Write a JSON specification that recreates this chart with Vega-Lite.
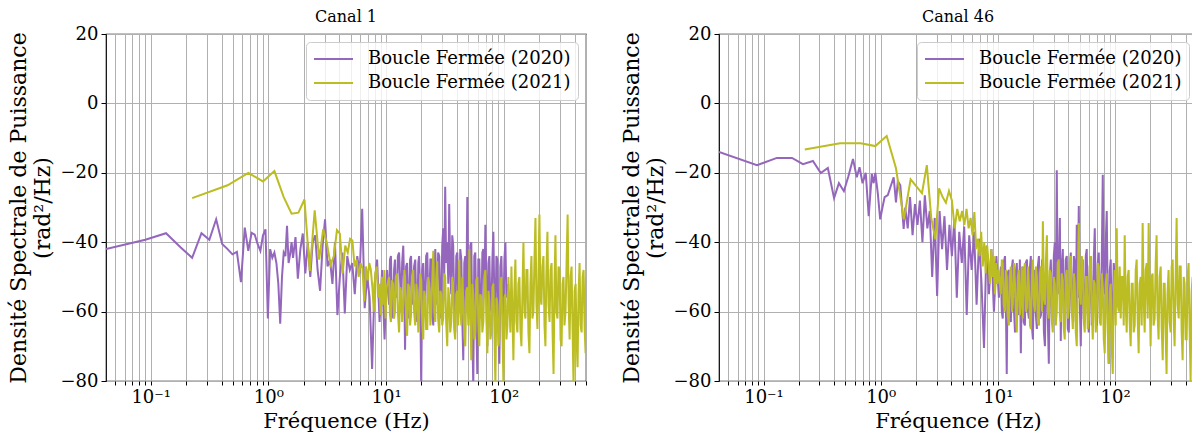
{
"$schema": "https://vega.github.io/schema/vega-lite/v6.json",
"padding": {"left": 6, "top": 8, "right": 0, "bottom": 0},
"background": "white",
"spacing": 31,
"datasets": {
"c1a": [{"f":0.0417,"v":-42},{"f":0.09,"v":-39.3},{"f":0.135,"v":-37.4},{"f":0.18,"v":-41.5},{"f":0.225,"v":-44.5},{"f":0.27,"v":-37.4},{"f":0.315,"v":-39.3},{"f":0.36,"v":-33.4},{"f":0.405,"v":-40.5},{"f":0.45,"v":-42},{"f":0.495,"v":-43.5},{"f":0.54,"v":-42.8},{"f":0.585,"v":-51.5},{"f":0.63,"v":-35.8},{"f":0.675,"v":-42.5},{"f":0.72,"v":-37.3},{"f":0.765,"v":-37.8},{"f":0.81,"v":-40.5},{"f":0.855,"v":-42.5},{"f":0.9,"v":-38},{"f":0.945,"v":-36.3},{"f":0.99,"v":-62},{"f":1.035,"v":-42},{"f":1.08,"v":-44.5},{"f":1.125,"v":-43},{"f":1.17,"v":-46},{"f":1.215,"v":-52},{"f":1.26,"v":-63.5},{"f":1.305,"v":-50},{"f":1.35,"v":-43},{"f":1.395,"v":-44},{"f":1.44,"v":-35.3},{"f":1.485,"v":-46},{"f":1.53,"v":-43.5},{"f":1.575,"v":-40},
{"f":1.62,"v":-44.5},{"f":1.7,"v":-38.5},{"f":1.78,"v":-50.5},{"f":1.87,"v":-42},{"f":1.96,"v":-37.5},{"f":2.06,"v":-49},{"f":2.16,"v":-40},{"f":2.27,"v":-50},{"f":2.38,"v":-40},{"f":2.5,"v":-38},{"f":2.62,"v":-48},{"f":2.75,"v":-54},{"f":2.89,"v":-41},{"f":3.03,"v":-33.4},{"f":3.18,"v":-47},{"f":3.34,"v":-45},{"f":3.5,"v":-52},{"f":3.68,"v":-40},{"f":3.86,"v":-61},{"f":4.05,"v":-50},{"f":4.25,"v":-43},{"f":4.46,"v":-60.5},{"f":4.68,"v":-44},{"f":4.92,"v":-48},{"f":5.16,"v":-46},{"f":5.42,"v":-55},{"f":5.69,"v":-44},{"f":5.97,"v":-49},{"f":6.27,"v":-30.4},{"f":6.58,"v":-59},{"f":6.91,"v":-50},{"f":7.25,"v":-56},{"f":7.61,"v":-76.5},{"f":7.99,"v":-52},{"f":8.39,"v":-45},{"f":8.81,"v":-63},{"f":9.25,"v":-48},{"f":9.71,"v":-68},{"f":10.2,"v":-48},
{"f":10.6,"v":-58},{"f":10.8,"v":-45},{"f":11.0,"v":-44},{"f":11.2,"v":-57},{"f":11.5,"v":-62},{"f":11.7,"v":-48},{"f":11.9,"v":-45},{"f":12.1,"v":-55},{"f":12.4,"v":-56},{"f":12.6,"v":-44},{"f":12.9,"v":-43},{"f":13.2,"v":-52},{"f":13.4,"v":-60},{"f":13.7,"v":-46},{"f":14.0,"v":-41},{"f":14.3,"v":-55},{"f":14.5,"v":-71},{"f":14.8,"v":-47},{"f":15.1,"v":-46},{"f":15.4,"v":-58},{"f":15.7,"v":-62},{"f":16.0,"v":-45},{"f":16.3,"v":-44},{"f":16.6,"v":-54},{"f":17.0,"v":-58},{"f":17.3,"v":-47},{"f":17.7,"v":-45},{"f":18.1,"v":-60},{"f":18.4,"v":-63},{"f":18.8,"v":-46},{"f":19.1,"v":-44},{"f":19.5,"v":-56},{"f":19.9,"v":-82},{"f":20.3,"v":-48},{"f":20.7,"v":-46},{"f":21.1,"v":-58},{"f":21.5,"v":-60},{"f":21.9,"v":-44},{"f":22.4,"v":-43},{"f":22.8,"v":-55},{"f":23.3,"v":-57},{"f":23.8,"v":-45},{"f":24.2,"v":-45},{"f":24.7,"v":-61},{"f":25.2,"v":-64},{"f":25.7,"v":-47},{"f":26.2,"v":-42},{"f":26.7,"v":-53},{"f":27.2,"v":-58},{"f":27.7,"v":-43},{"f":28.3,"v":-44},{"f":28.9,"v":-57},{"f":29.4,"v":-62},{"f":30.0,"v":-41},{"f":30.6,"v":-36},{"f":31.2,"v":-50},{"f":31.8,"v":-24},{"f":32.4,"v":-46},{"f":33.1,"v":-40},{"f":33.8,"v":-52},{"f":34.4,"v":-29},{"f":35.1,"v":-48},{"f":35.8,"v":-55},{"f":36.5,"v":-38},{"f":37.2,"v":-41},{"f":37.9,"v":-58},{"f":38.7,"v":-66},{"f":39.5,"v":-44},{"f":40.3,"v":-43},{"f":41.1,"v":-57},{"f":41.9,"v":-60},{"f":42.7,"v":-42},{"f":43.6,"v":-45},{"f":44.5,"v":-63},{"f":45.3,"v":-74},{"f":46.2,"v":-46},{"f":47.1,"v":-44},{"f":48.0,"v":-60},{"f":49.0,"v":-27},{"f":50.0,"v":-52},{"f":51.0,"v":-58},{"f":52.0,"v":-41},{"f":53.0,"v":-40},{"f":54.1,"v":-65},{"f":55.1,"v":-82},{"f":56.2,"v":-44},{"f":57.3,"v":-43},{"f":58.4,"v":-62},{"f":59.6,"v":-78},{"f":60.8,"v":-45},{"f":62.0,"v":-45},{"f":63.2,"v":-58},{"f":64.5,"v":-62},{"f":65.8,"v":-43},{"f":67.1,"v":-42},{"f":68.4,"v":-55},{"f":69.8,"v":-35},{"f":71.2,"v":-52},{"f":72.6,"v":-70},{"f":74.1,"v":-46},{"f":75.5,"v":-44},{"f":77.0,"v":-59},{"f":78.5,"v":-60},{"f":80.1,"v":-45},{"f":81.6,"v":-37},{"f":83.2,"v":-56},{"f":84.9,"v":-65},{"f":86.6,"v":-44},{"f":88.3,"v":-45},{"f":90.1,"v":-62},{"f":91.8,"v":-75},{"f":93.6,"v":-47},{"f":95.5,"v":-44},{"f":97.4,"v":-58},{"f":99.3,"v":-62},{"f":101.3,"v":-45},{"f":103.3,"v":-40},{"f":105.4,"v":-56},{"f":107.4,"v":-52}],
"c1b": [{"f":0.225,"v":-27.3},{"f":0.45,"v":-23.6},{"f":0.675,"v":-20},{"f":0.9,"v":-22.5},{"f":1.125,"v":-19.5},{"f":1.35,"v":-27},{"f":1.575,"v":-31.8},{"f":1.8,"v":-31.5},{"f":2.025,"v":-27.7},{"f":2.25,"v":-48.3},{"f":2.475,"v":-30.8},{"f":2.7,"v":-45},{"f":2.925,"v":-36.2},{"f":3.15,"v":-40.5},{"f":3.375,"v":-46.5},{"f":3.6,"v":-44},{"f":3.825,"v":-36.5},{"f":4.05,"v":-37.5},{"f":4.275,"v":-49},{"f":4.5,"v":-41},{"f":4.725,"v":-43},{"f":4.95,"v":-39},{"f":5.175,"v":-39.5},{"f":5.4,"v":-47},{"f":5.625,"v":-45},{"f":5.85,"v":-50},{"f":6.075,"v":-46},{"f":6.3,"v":-47.5},{"f":6.525,"v":-57},{"f":6.75,"v":-47},{"f":6.975,"v":-51},{"f":7.2,"v":-46},{"f":7.425,"v":-48},{"f":7.65,"v":-53},{"f":7.875,"v":-60},{"f":8.1,"v":-49},{"f":8.325,"v":-47},{"f":8.55,"v":-56},{"f":8.775,"v":-52},{"f":9.0,"v":-61},{"f":9.225,"v":-50},{"f":9.45,"v":-58},{"f":9.675,"v":-48},{"f":9.9,"v":-62},{"f":10.125,"v":-53},
{"f":10.6,"v":-50},{"f":10.8,"v":-61},{"f":11.0,"v":-63},{"f":11.2,"v":-51},{"f":11.5,"v":-52},{"f":11.7,"v":-62},{"f":11.9,"v":-60},{"f":12.1,"v":-50},{"f":12.4,"v":-49},{"f":12.6,"v":-60},{"f":12.9,"v":-66},{"f":13.2,"v":-53},{"f":13.4,"v":-54},{"f":13.7,"v":-63},{"f":14.0,"v":-58},{"f":14.3,"v":-48},{"f":14.5,"v":-50},{"f":14.8,"v":-62},{"f":15.1,"v":-67},{"f":15.4,"v":-52},{"f":15.7,"v":-53},{"f":16.0,"v":-64},{"f":16.3,"v":-61},{"f":16.6,"v":-50},{"f":17.0,"v":-48},{"f":17.3,"v":-60},{"f":17.7,"v":-64},{"f":18.1,"v":-52},{"f":18.4,"v":-55},{"f":18.8,"v":-66},{"f":19.1,"v":-62},{"f":19.5,"v":-49},{"f":19.9,"v":-51},{"f":20.3,"v":-63},{"f":20.7,"v":-68},{"f":21.1,"v":-54},{"f":21.5,"v":-56},{"f":21.9,"v":-65},{"f":22.4,"v":-65},{"f":22.8,"v":-50},{"f":23.3,"v":-52},{"f":23.8,"v":-64},{"f":24.2,"v":-60},{"f":24.7,"v":-51},{"f":25.2,"v":-42.5},{"f":25.7,"v":-60},{"f":26.2,"v":-63},{"f":26.7,"v":-50},{"f":27.2,"v":-45.5},{"f":27.7,"v":-62},{"f":28.3,"v":-66},{"f":28.9,"v":-54},{"f":29.4,"v":-55},{"f":30.0,"v":-64},{"f":30.6,"v":-62},{"f":31.2,"v":-49},{"f":31.8,"v":-50},{"f":32.4,"v":-63},{"f":33.1,"v":-70},{"f":33.8,"v":-53},{"f":34.4,"v":-56},{"f":35.1,"v":-66},{"f":35.8,"v":-63},{"f":36.5,"v":-50},{"f":37.2,"v":-52},{"f":37.9,"v":-65},{"f":38.7,"v":-68},{"f":39.5,"v":-55},{"f":40.3,"v":-54},{"f":41.1,"v":-64},{"f":41.9,"v":-45},{"f":42.7,"v":-58},{"f":43.6,"v":-64},{"f":44.5,"v":-50},{"f":45.3,"v":-57},{"f":46.2,"v":-67},{"f":47.1,"v":-70},{"f":48.0,"v":-54},{"f":49.0,"v":-53},{"f":50.0,"v":-64},{"f":51.0,"v":-42},{"f":52.0,"v":-60},{"f":53.0,"v":-74},{"f":54.1,"v":-52},{"f":55.1,"v":-55},{"f":56.2,"v":-68},{"f":57.3,"v":-66},{"f":58.4,"v":-51},{"f":59.6,"v":-50},{"f":60.8,"v":-63},{"f":62.0,"v":-70},{"f":63.2,"v":-55},{"f":64.5,"v":-56},{"f":65.8,"v":-66},{"f":67.1,"v":-63},{"f":68.4,"v":-50},{"f":69.8,"v":-48},{"f":71.2,"v":-62},{"f":72.6,"v":-72},{"f":74.1,"v":-54},{"f":75.5,"v":-57},{"f":77.0,"v":-68},{"f":78.5,"v":-66},{"f":80.1,"v":-53},{"f":81.6,"v":-52},{"f":83.2,"v":-64},{"f":84.9,"v":-81},{"f":86.6,"v":-56},{"f":88.3,"v":-58},{"f":90.1,"v":-70},{"f":91.8,"v":-68},{"f":93.6,"v":-52},{"f":95.5,"v":-50},{"f":97.4,"v":-65},{"f":99.3,"v":-80},{"f":101.3,"v":-56},{"f":103.3,"v":-55},{"f":105.4,"v":-68},{"f":107.4,"v":-64},{"f":109.5,"v":-50},
{"f":111.7,"v":-58},{"f":113.9,"v":-66},{"f":116.2,"v":-47},{"f":118.5,"v":-60},{"f":120.8,"v":-74},{"f":123.2,"v":-54},{"f":125.6,"v":-45},{"f":128.1,"v":-63},{"f":130.6,"v":-66},{"f":133.2,"v":-52},{"f":135.9,"v":-50},{"f":138.6,"v":-65},{"f":141.3,"v":-70},{"f":144.1,"v":-55},{"f":147,"v":-40},{"f":150,"v":-60},{"f":152.8,"v":-62},{"f":155.9,"v":-48},{"f":158.9,"v":-48},{"f":162.1,"v":-66},{"f":165.3,"v":-72},{"f":168.6,"v":-52},{"f":171.9,"v":-44},{"f":175.3,"v":-62},{"f":178.8,"v":-60},{"f":182.4,"v":-45},{"f":186,"v":-33},{"f":189.7,"v":-58},{"f":193.4,"v":-65},{"f":197.3,"v":-50},{"f":201,"v":-32},{"f":205,"v":-56},{"f":209,"v":-58},{"f":213,"v":-47},{"f":217.5,"v":-44},{"f":222,"v":-64},{"f":226,"v":-70},{"f":230,"v":-50},{"f":235,"v":-37},{"f":240,"v":-58},{"f":245,"v":-63},{"f":250,"v":-48},{"f":255,"v":-46},{"f":260,"v":-66},{"f":265,"v":-78},{"f":270,"v":-52},{"f":275,"v":-38},{"f":280,"v":-60},{"f":286,"v":-62},{"f":292,"v":-47},{"f":298,"v":-48},{"f":304,"v":-68},{"f":310,"v":-70},{"f":316,"v":-52},{"f":322,"v":-50},{"f":328,"v":-64},{"f":335,"v":-60},{"f":342,"v":-46},{"f":349,"v":-32},{"f":356,"v":-58},{"f":363,"v":-68},{"f":370,"v":-50},{"f":377,"v":-47},{"f":385,"v":-66},{"f":392,"v":-82},{"f":400,"v":-54},{"f":408,"v":-52},{"f":416,"v":-68},{"f":424,"v":-76},{"f":432,"v":-55},{"f":441,"v":-46},{"f":450,"v":-64},{"f":459,"v":-66},{"f":468,"v":-50},{"f":477,"v":-48},{"f":487,"v":-65},{"f":496,"v":-72},{"f":500,"v":-50}],
"c2a": [{"f":0.0417,"v":-14},{"f":0.088,"v":-17.8},{"f":0.13,"v":-15.7},{"f":0.175,"v":-15.7},{"f":0.217,"v":-17.5},{"f":0.264,"v":-16.6},{"f":0.308,"v":-20.1},{"f":0.354,"v":-18.6},{"f":0.4,"v":-27.3},{"f":0.44,"v":-23},{"f":0.485,"v":-25.3},{"f":0.53,"v":-21},{"f":0.58,"v":-16},{"f":0.625,"v":-21.3},{"f":0.66,"v":-18.4},{"f":0.7,"v":-23},{"f":0.745,"v":-20},{"f":0.79,"v":-32.5},{"f":0.84,"v":-20.3},{"f":0.87,"v":-23},{"f":0.9,"v":-20},{"f":0.945,"v":-26},{"f":0.99,"v":-33.4},{"f":1.035,"v":-30},{"f":1.08,"v":-27},{"f":1.15,"v":-26.4},{"f":1.29,"v":-21.3},{"f":1.35,"v":-28.5},{"f":1.4,"v":-22.4},{"f":1.47,"v":-23.6},{"f":1.57,"v":-36.2},
{"f":1.62,"v":-30},{"f":1.7,"v":-36},{"f":1.78,"v":-27},{"f":1.87,"v":-38},{"f":1.96,"v":-29},{"f":2.06,"v":-35},{"f":2.16,"v":-28},{"f":2.27,"v":-40},{"f":2.38,"v":-26.5},{"f":2.5,"v":-36},{"f":2.62,"v":-31},{"f":2.75,"v":-50},{"f":2.89,"v":-33},{"f":3.03,"v":-55.5},{"f":3.18,"v":-31},{"f":3.34,"v":-42},{"f":3.5,"v":-32.5},{"f":3.68,"v":-48},{"f":3.86,"v":-35},{"f":4.05,"v":-44},{"f":4.25,"v":-33.5},{"f":4.46,"v":-56},{"f":4.68,"v":-37},{"f":4.92,"v":-46},{"f":5.16,"v":-35.5},{"f":5.42,"v":-61},{"f":5.69,"v":-38},{"f":5.97,"v":-48},{"f":6.27,"v":-37},{"f":6.58,"v":-58},{"f":6.91,"v":-39},{"f":7.25,"v":-52},{"f":7.61,"v":-70.5},{"f":7.99,"v":-41},{"f":8.39,"v":-55},{"f":8.81,"v":-42},{"f":9.25,"v":-60},{"f":9.71,"v":-44},{"f":10.2,"v":-56},
{"f":10.6,"v":-47},{"f":10.8,"v":-60},{"f":11.0,"v":-62},{"f":11.2,"v":-46},{"f":11.5,"v":-44},{"f":11.7,"v":-58},{"f":11.9,"v":-78},{"f":12.1,"v":-49},{"f":12.4,"v":-48},{"f":12.6,"v":-62},{"f":12.9,"v":-63},{"f":13.2,"v":-47},{"f":13.4,"v":-45},{"f":13.7,"v":-59},{"f":14.0,"v":-66},{"f":14.3,"v":-48},{"f":14.5,"v":-46},{"f":14.8,"v":-61},{"f":15.1,"v":-60},{"f":15.4,"v":-45},{"f":15.7,"v":-72},{"f":16.0,"v":-50},{"f":16.3,"v":-47},{"f":16.6,"v":-63},{"f":17.0,"v":-64},{"f":17.3,"v":-46},{"f":17.7,"v":-45},{"f":18.1,"v":-60},{"f":18.4,"v":-62},{"f":18.8,"v":-47},{"f":19.1,"v":-44},{"f":19.5,"v":-64},{"f":19.9,"v":-68},{"f":20.3,"v":-49},{"f":20.7,"v":-48},{"f":21.1,"v":-61},{"f":21.5,"v":-65},{"f":21.9,"v":-47},{"f":22.4,"v":-44},{"f":22.8,"v":-62},{"f":23.3,"v":-61},{"f":23.8,"v":-45},{"f":24.2,"v":-46},{"f":24.7,"v":-66},{"f":25.2,"v":-70},{"f":25.7,"v":-49},{"f":26.2,"v":-48},{"f":26.7,"v":-63},{"f":27.2,"v":-75},{"f":27.7,"v":-50},{"f":28.3,"v":-45},{"f":28.9,"v":-62},{"f":29.4,"v":-60},{"f":30.0,"v":-44},{"f":30.6,"v":-40},{"f":31.2,"v":-58},{"f":31.8,"v":-19.3},{"f":32.4,"v":-55},{"f":33.1,"v":-50},{"f":33.8,"v":-33},{"f":34.4,"v":-68.5},{"f":35.1,"v":-47},{"f":35.8,"v":-42},{"f":36.5,"v":-60},{"f":37.2,"v":-62},{"f":37.9,"v":-45},{"f":38.7,"v":-44},{"f":39.5,"v":-65},{"f":40.3,"v":-66},{"f":41.1,"v":-48},{"f":41.9,"v":-43},{"f":42.7,"v":-60},{"f":43.6,"v":-58},{"f":44.5,"v":-44},{"f":45.3,"v":-46},{"f":46.2,"v":-63},{"f":47.1,"v":-35},{"f":48.0,"v":-56},{"f":49.0,"v":-29.6},{"f":50.0,"v":-58},{"f":51.0,"v":-70},{"f":52.0,"v":-46},{"f":53.0,"v":-45},{"f":54.1,"v":-62},{"f":55.1,"v":-63},{"f":56.2,"v":-44},{"f":57.3,"v":-42},{"f":58.4,"v":-60},{"f":59.6,"v":-66},{"f":60.8,"v":-47},{"f":62.0,"v":-44},{"f":63.2,"v":-64},{"f":64.5,"v":-60},{"f":65.8,"v":-45},{"f":67.1,"v":-36},{"f":68.4,"v":-58},{"f":69.8,"v":-64},{"f":71.2,"v":-46},{"f":72.6,"v":-43},{"f":74.1,"v":-62},{"f":75.5,"v":-58},{"f":77.0,"v":-45},{"f":78.5,"v":-20.6},{"f":80.1,"v":-52},{"f":81.6,"v":-55},{"f":83.2,"v":-40},{"f":84.9,"v":-31},{"f":86.6,"v":-60},{"f":88.3,"v":-75},{"f":90.1,"v":-48},{"f":91.8,"v":-45},{"f":93.6,"v":-66},{"f":95.5,"v":-62},{"f":97.4,"v":-46},{"f":99.3,"v":-50}],
"c2b": [{"f":0.225,"v":-13.3},{"f":0.45,"v":-11.5},{"f":0.675,"v":-11.5},{"f":0.9,"v":-12.3},{"f":1.125,"v":-9.4},{"f":1.35,"v":-18.7},{"f":1.575,"v":-33.4},{"f":1.8,"v":-21.9},{"f":2.025,"v":-24},{"f":2.25,"v":-25.9},{"f":2.475,"v":-17.8},{"f":2.7,"v":-33},{"f":2.925,"v":-39.2},{"f":3.15,"v":-24.5},{"f":3.375,"v":-27},{"f":3.6,"v":-28.6},{"f":3.825,"v":-25.2},{"f":4.05,"v":-28},{"f":4.275,"v":-36},{"f":4.5,"v":-30.4},{"f":4.725,"v":-34},{"f":4.95,"v":-31},{"f":5.175,"v":-35},{"f":5.4,"v":-30.4},{"f":5.625,"v":-36},{"f":5.85,"v":-33},{"f":6.075,"v":-38},{"f":6.3,"v":-31.3},{"f":6.525,"v":-42},{"f":6.75,"v":-39},{"f":6.975,"v":-44},{"f":7.2,"v":-37},{"f":7.425,"v":-47},{"f":7.65,"v":-40},{"f":7.875,"v":-49},{"f":8.1,"v":-41},{"f":8.325,"v":-46},{"f":8.55,"v":-52},{"f":8.775,"v":-42},{"f":9.0,"v":-50},{"f":9.225,"v":-44},{"f":9.45,"v":-55},{"f":9.675,"v":-46},{"f":9.9,"v":-52},{"f":10.125,"v":-48},
{"f":10.6,"v":-55},{"f":10.8,"v":-45},{"f":11.0,"v":-46},{"f":11.2,"v":-58},{"f":11.5,"v":-60},{"f":11.7,"v":-48},{"f":11.9,"v":-50},{"f":12.1,"v":-61},{"f":12.4,"v":-64},{"f":12.6,"v":-50},{"f":12.9,"v":-47},{"f":13.2,"v":-60},{"f":13.4,"v":-58},{"f":13.7,"v":-46},{"f":14.0,"v":-52},{"f":14.3,"v":-63},{"f":14.5,"v":-66},{"f":14.8,"v":-50},{"f":15.1,"v":-48},{"f":15.4,"v":-61},{"f":15.7,"v":-57},{"f":16.0,"v":-47},{"f":16.3,"v":-62},{"f":16.6,"v":-49},{"f":17.0,"v":-46},{"f":17.3,"v":-60},{"f":17.7,"v":-59},{"f":18.1,"v":-47},{"f":18.4,"v":-53},{"f":18.8,"v":-64},{"f":19.1,"v":-65},{"f":19.5,"v":-50},{"f":19.9,"v":-45},{"f":20.3,"v":-58},{"f":20.7,"v":-60},{"f":21.1,"v":-47},{"f":21.5,"v":-50},{"f":21.9,"v":-63},{"f":22.4,"v":-64},{"f":22.8,"v":-49},{"f":23.3,"v":-47},{"f":23.8,"v":-60},{"f":24.2,"v":-34},{"f":24.7,"v":-56},{"f":25.2,"v":-58},{"f":25.7,"v":-45},{"f":26.2,"v":-38},{"f":26.7,"v":-60},{"f":27.2,"v":-62},{"f":27.7,"v":-48},{"f":28.3,"v":-49},{"f":28.9,"v":-63},{"f":29.4,"v":-66},{"f":30.0,"v":-50},{"f":30.6,"v":-52},{"f":31.2,"v":-64},{"f":31.8,"v":-60},{"f":32.4,"v":-46},{"f":33.1,"v":-45},{"f":33.8,"v":-61},{"f":34.4,"v":-63},{"f":35.1,"v":-49},{"f":35.8,"v":-51},{"f":36.5,"v":-65},{"f":37.2,"v":-68},{"f":37.9,"v":-50},{"f":38.7,"v":-48},{"f":39.5,"v":-62},{"f":40.3,"v":-59},{"f":41.1,"v":-46},{"f":41.9,"v":-44},{"f":42.7,"v":-60},{"f":43.6,"v":-65},{"f":44.5,"v":-49},{"f":45.3,"v":-52},{"f":46.2,"v":-66},{"f":47.1,"v":-70},{"f":48.0,"v":-52},{"f":49.0,"v":-34.5},{"f":50.0,"v":-55},{"f":51.0,"v":-58},{"f":52.0,"v":-44},{"f":53.0,"v":-47},{"f":54.1,"v":-63},{"f":55.1,"v":-66},{"f":56.2,"v":-50},{"f":57.3,"v":-50},{"f":58.4,"v":-65},{"f":59.6,"v":-62},{"f":60.8,"v":-47},{"f":62.0,"v":-44},{"f":63.2,"v":-60},{"f":64.5,"v":-68},{"f":65.8,"v":-51},{"f":67.1,"v":-52},{"f":68.4,"v":-66},{"f":69.8,"v":-60},{"f":71.2,"v":-46},{"f":72.6,"v":-47},{"f":74.1,"v":-63},{"f":75.5,"v":-64},{"f":77.0,"v":-49},{"f":78.5,"v":-53},{"f":80.1,"v":-68},{"f":81.6,"v":-72},{"f":83.2,"v":-52},{"f":84.9,"v":-49},{"f":86.6,"v":-66},{"f":88.3,"v":-75},{"f":90.1,"v":-54},{"f":91.8,"v":-52},{"f":93.6,"v":-70},{"f":95.5,"v":-78},{"f":97.4,"v":-55},{"f":99.3,"v":-48},{"f":101.3,"v":-64},{"f":103.3,"v":-36},{"f":105.4,"v":-58},{"f":107.4,"v":-60},{"f":109.5,"v":-47},
{"f":111.7,"v":-62},{"f":113.9,"v":-50},{"f":116.2,"v":-50},{"f":118.5,"v":-64},{"f":120.8,"v":-38},{"f":123.2,"v":-58},{"f":125.6,"v":-66},{"f":128.1,"v":-50},{"f":130.6,"v":-48},{"f":133.2,"v":-63},{"f":135.9,"v":-70},{"f":138.6,"v":-52},{"f":141.3,"v":-52},{"f":144.1,"v":-66},{"f":147,"v":-64},{"f":150,"v":-48},{"f":152.8,"v":-45},{"f":155.9,"v":-62},{"f":158.9,"v":-72},{"f":162.1,"v":-52},{"f":165.3,"v":-50},{"f":168.6,"v":-64},{"f":171.9,"v":-34.5},{"f":175.3,"v":-56},{"f":178.8,"v":-66},{"f":182.4,"v":-48},{"f":186,"v":-46},{"f":189.7,"v":-62},{"f":193.4,"v":-34.5},{"f":197.3,"v":-55},{"f":201,"v":-70},{"f":205,"v":-50},{"f":209,"v":-49},{"f":213,"v":-64},{"f":217.5,"v":-62},{"f":222,"v":-46},{"f":226,"v":-38},{"f":230,"v":-60},{"f":235,"v":-68},{"f":240,"v":-50},{"f":245,"v":-47},{"f":250,"v":-65},{"f":255,"v":-74},{"f":260,"v":-52},{"f":265,"v":-52},{"f":270,"v":-66},{"f":275,"v":-78},{"f":280,"v":-55},{"f":286,"v":-48},{"f":292,"v":-63},{"f":298,"v":-66},{"f":304,"v":-47},{"f":310,"v":-45},{"f":316,"v":-62},{"f":322,"v":-70},{"f":328,"v":-52},{"f":335,"v":-33},{"f":342,"v":-58},{"f":349,"v":-62},{"f":356,"v":-47},{"f":363,"v":-47},{"f":370,"v":-66},{"f":377,"v":-74},{"f":385,"v":-50},{"f":392,"v":-52},{"f":400,"v":-68},{"f":408,"v":-68},{"f":416,"v":-50},{"f":424,"v":-46},{"f":432,"v":-64},{"f":441,"v":-80},{"f":450,"v":-54},{"f":459,"v":-50},{"f":468,"v":-70},{"f":477,"v":-82},{"f":487,"v":-56},{"f":496,"v":-56},{"f":500,"v":-48}]
},
"config": {
  "font": "DejaVu Serif",
  "view": {"stroke": "black", "strokeWidth": 1.2},
  "axis": {"domain": false, "tickColor": "black", "labelColor": "black", "titleColor": "black", "gridColor": "#b0b0b0", "gridWidth": 1, "labelFont": "DejaVu Serif", "titleFont": "DejaVu Serif", "labelFontSize": 18, "titleFontSize": 21, "titleFontWeight": "normal"},
  "title": {"font": "DejaVu Serif", "fontSize": 16, "fontWeight": "normal", "anchor": "middle", "color": "black"},
  "legend": {"labelFont": "DejaVu Serif", "labelColor": "black"}
},
"resolve": {"scale": {"color": "independent"}, "legend": {"color": "independent"}},
"hconcat": [
{
  "width": 480, "height": 347,
  "title": {"text": "Canal 1", "offset": 0},
  "encoding": {
    "x": {"field": "f", "type": "quantitative", "scale": {"type": "log", "domain": [0.0417, 500], "nice": false},
      "axis": {"values": [0.05,0.06,0.07,0.08,0.09,0.1,0.2,0.3,0.4,0.5,0.6,0.7,0.8,0.9,1,2,3,4,5,6,7,8,9,10,20,30,40,50,60,70,80,90,100,200,300,400,500],
        "labelExpr": "datum.value == 0.1 ? '10⁻¹' : datum.value == 1 ? '10⁰' : datum.value == 10 ? '10¹' : datum.value == 100 ? '10²' : ''",
        "labelOverlap": false, "labelFlush": false, "tickSize": 4, "labelPadding": 3, "title": "Fréquence (Hz)", "titlePadding": 4}},
    "y": {"field": "v", "type": "quantitative", "scale": {"domain": [-80, 20], "nice": false},
      "axis": {"values": [-80,-60,-40,-20,0,20], "tickSize": 5, "labelPadding": 3, "labelFlush": false, "title": ["Densité Spectrale de Puissance", "(rad²/Hz)"], "titleFontSize": 22, "titleLineHeight": 24, "titlePadding": 6}}
  },
  "layer": [
    {"data": {"name": "c1a"}, "mark": {"type": "line", "clip": true, "strokeWidth": 2},
     "encoding": {"color": {"datum": "Boucle Fermée (2020)", "type": "nominal",
       "scale": {"domain": ["Boucle Fermée (2020)", "Boucle Fermée (2021)"], "range": ["#9467bd", "#bcbd22"]},
       "legend": {"orient": "top-right", "offset": 8, "title": null, "symbolType": "stroke", "symbolSize": 1521, "symbolStrokeWidth": 2, "labelFontSize": 18, "labelOffset": 14, "labelLimit": 400, "padding": 7, "rowPadding": 4, "clipHeight": 20, "strokeColor": "#cccccc", "fillColor": "rgba(255,255,255,0.8)", "cornerRadius": 4}}}},
    {"data": {"name": "c1b"}, "mark": {"type": "line", "clip": true, "strokeWidth": 2},
     "encoding": {"color": {"datum": "Boucle Fermée (2021)", "type": "nominal"}}}
  ]
},
{
  "width": 478, "height": 347,
  "title": {"text": "Canal 46", "offset": 0},
  "encoding": {
    "x": {"field": "f", "type": "quantitative", "scale": {"type": "log", "domain": [0.0417, 500], "nice": false},
      "axis": {"values": [0.05,0.06,0.07,0.08,0.09,0.1,0.2,0.3,0.4,0.5,0.6,0.7,0.8,0.9,1,2,3,4,5,6,7,8,9,10,20,30,40,50,60,70,80,90,100,200,300,400,500],
        "labelExpr": "datum.value == 0.1 ? '10⁻¹' : datum.value == 1 ? '10⁰' : datum.value == 10 ? '10¹' : datum.value == 100 ? '10²' : ''",
        "labelOverlap": false, "labelFlush": false, "tickSize": 4, "labelPadding": 3, "title": "Fréquence (Hz)", "titlePadding": 4}},
    "y": {"field": "v", "type": "quantitative", "scale": {"domain": [-80, 20], "nice": false},
      "axis": {"values": [-80,-60,-40,-20,0,20], "tickSize": 5, "labelPadding": 3, "labelFlush": false, "title": ["Densité Spectrale de Puissance", "(rad²/Hz)"], "titleFontSize": 22, "titleLineHeight": 24, "titlePadding": 6}}
  },
  "layer": [
    {"data": {"name": "c2a"}, "mark": {"type": "line", "clip": true, "strokeWidth": 2},
     "encoding": {"color": {"datum": "Boucle Fermée (2020)", "type": "nominal",
       "scale": {"domain": ["Boucle Fermée (2020)", "Boucle Fermée (2021)"], "range": ["#9467bd", "#bcbd22"]},
       "legend": {"orient": "top-right", "offset": 8, "title": null, "symbolType": "stroke", "symbolSize": 1521, "symbolStrokeWidth": 2, "labelFontSize": 18, "labelOffset": 14, "labelLimit": 400, "padding": 7, "rowPadding": 4, "clipHeight": 20, "strokeColor": "#cccccc", "fillColor": "rgba(255,255,255,0.8)", "cornerRadius": 4}}}},
    {"data": {"name": "c2b"}, "mark": {"type": "line", "clip": true, "strokeWidth": 2},
     "encoding": {"color": {"datum": "Boucle Fermée (2021)", "type": "nominal"}}}
  ]
}
]
}
